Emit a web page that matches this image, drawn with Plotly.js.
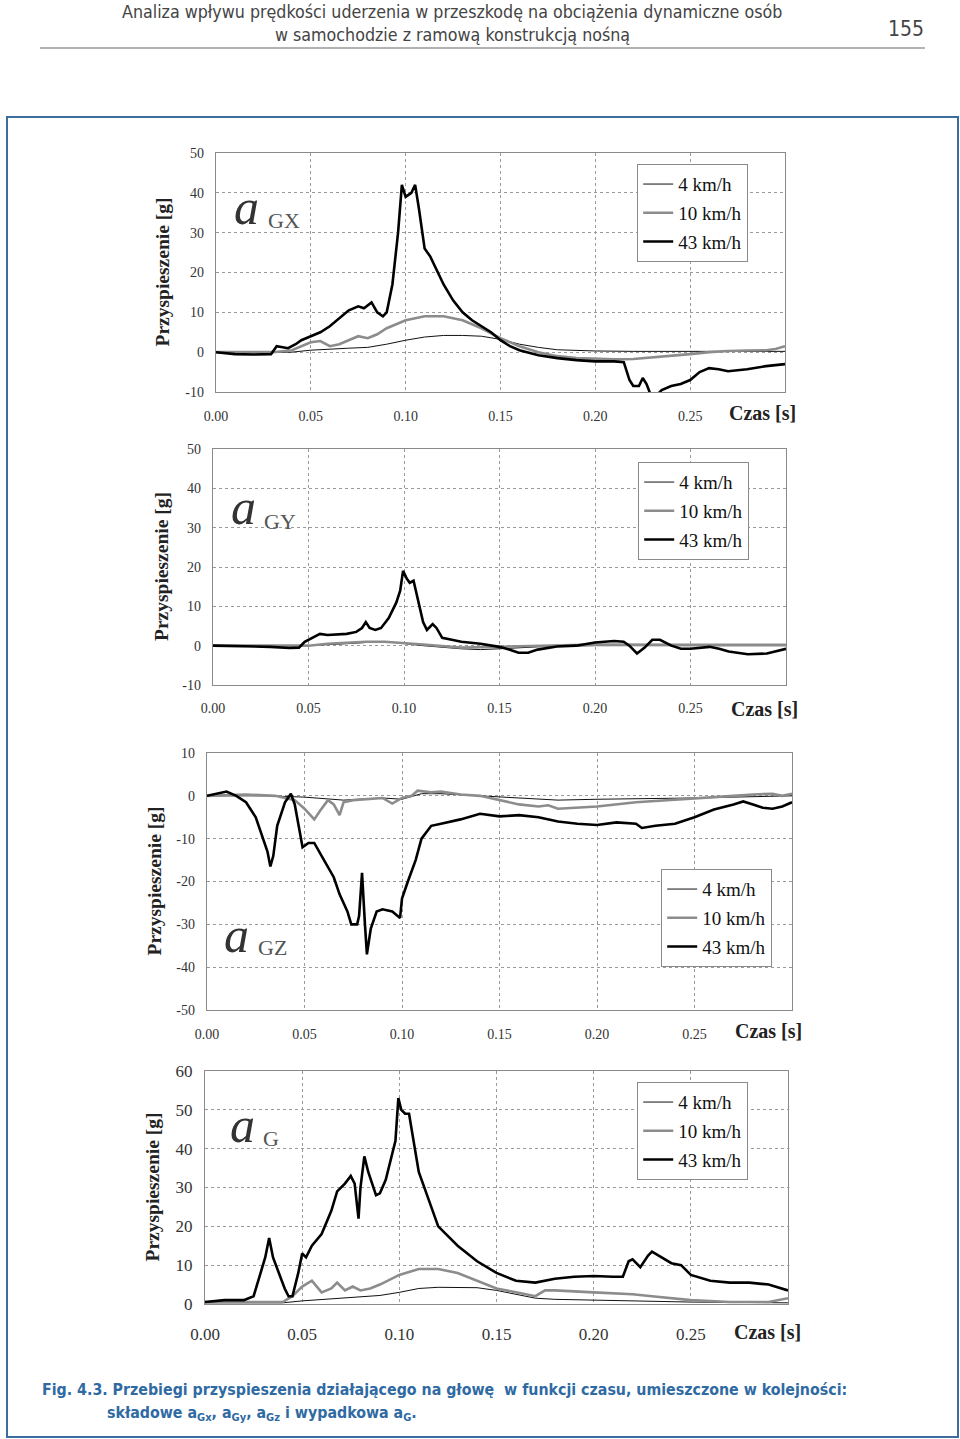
<!DOCTYPE html>
<html><head><meta charset="utf-8">
<script src="https://cdn.plot.ly/plotly-3.0.1.min.js"></script>
<style>html,body{margin:0;padding:0;background:#fff}#c{width:960px;height:1439px}</style>
</head><body><div id="c"></div>
<script>
// ---------- DATA ----------
const seriesNames = ['4 km/h', '10 km/h', '43 km/h'];
const xTickVals = [0, 0.05, 0.10, 0.15, 0.20, 0.25];
const xTickText = ['0.00', '0.05', '0.10', '0.15', '0.20', '0.25'];
const yTicksA = [-10, 0, 10, 20, 30, 40, 50];
const yTextA  = ['-10', '0', '10', '20', '30', '40', '50'];
const yTicksZ = [-50, -40, -30, -20, -10, 0, 10];
const yTextZ  = ['-50', '-40', '-30', '-20', '-10', '0', '10'];
const yTicksG = [0, 10, 20, 30, 40, 50, 60];
const yTextG  = ['0', '10', '20', '30', '40', '50', '60'];

// a_GX
const gx_t4  = [0,0.04,0.05,0.06,0.07,0.08,0.09,0.10,0.11,0.12,0.13,0.14,0.15,0.16,0.17,0.18,0.20,0.22,0.25,0.30];
const gx_v4  = [0,0,0.5,0.8,1,1.2,2,3,3.8,4.2,4.2,4,3.2,2,1.2,0.6,0.3,0.2,0.2,0.2];
const gx_t10 = [0,0.03,0.04,0.045,0.05,0.055,0.06,0.065,0.07,0.075,0.08,0.085,0.09,0.10,0.11,0.12,0.13,0.14,0.15,0.16,0.17,0.18,0.19,0.20,0.21,0.22,0.23,0.24,0.25,0.26,0.27,0.28,0.29,0.295,0.30];
const gx_v10 = [0,0,0.5,1.5,2.5,2.8,1.5,2,3,4,3.5,4.5,6,8,9,9,8,6,3.5,1.5,0,-1,-1.5,-1.7,-1.8,-1.7,-1.3,-1,-0.5,0,0.3,0.4,0.5,0.8,1.5];
const gx_t43 = [0,0.01,0.02,0.029,0.032,0.035,0.038,0.042,0.045,0.05,0.055,0.06,0.065,0.07,0.075,0.078,0.082,0.085,0.088,0.09,0.093,0.096,0.098,0.1,0.103,0.105,0.107,0.11,0.113,0.117,0.12,0.125,0.13,0.135,0.14,0.145,0.15,0.155,0.16,0.17,0.18,0.19,0.2,0.21,0.215,0.218,0.22,0.223,0.225,0.227,0.229,0.233,0.235,0.24,0.245,0.25,0.255,0.26,0.265,0.27,0.28,0.29,0.30];
const gx_v43 = [0,-0.5,-0.6,-0.5,1.5,1.2,1,2,3,4,5,6.5,8.5,10.5,11.5,11,12.5,10,9,10,17,30,42,39,40,42,36,26,24,20,17,13,10,8,6.5,5,3,1.5,0.5,-0.8,-1.5,-2,-2.3,-2.3,-2.5,-7,-8.5,-8.5,-6.5,-8,-10.5,-10.5,-9.5,-8.5,-8,-7,-5,-4,-4.3,-4.8,-4.3,-3.5,-3];

// a_GY
const gy_t4  = [0,0.05,0.07,0.08,0.095,0.11,0.13,0.14,0.15,0.17,0.20,0.25,0.30];
const gy_v4  = [0,0,0.5,0.8,0.8,0,-0.8,-1,-0.8,-0.3,0,0,0];
const gy_t10 = [0,0.05,0.06,0.08,0.09,0.10,0.11,0.13,0.15,0.20,0.25,0.30];
const gy_v10 = [0,0,0.5,1,1,0.7,0.3,-0.5,-0.3,0.3,0.2,0.2];
const gy_t43 = [0,0.02,0.03,0.04,0.045,0.048,0.052,0.056,0.06,0.065,0.07,0.075,0.078,0.08,0.082,0.085,0.088,0.092,0.096,0.098,0.0995,0.1015,0.103,0.105,0.107,0.11,0.112,0.115,0.117,0.12,0.125,0.13,0.14,0.15,0.155,0.16,0.165,0.17,0.18,0.19,0.2,0.21,0.215,0.218,0.222,0.226,0.23,0.234,0.24,0.245,0.25,0.255,0.26,0.265,0.27,0.28,0.29,0.30];
const gy_v43 = [0,-0.2,-0.3,-0.6,-0.5,1,2,3,2.7,2.8,3,3.5,4.5,6,4.5,4,4.5,7,11,14,19,17,16,16.5,12,6,4,5.5,4.5,2,1.5,1,0.5,-0.3,-1,-1.8,-1.8,-1,-0.2,0,0.8,1.2,1,0,-2,-0.5,1.5,1.5,0,-0.8,-0.8,-0.5,-0.3,-0.8,-1.5,-2.2,-2,-0.8];

// a_GZ
const gz_t4  = [0,0.03,0.05,0.07,0.09,0.10,0.11,0.12,0.14,0.16,0.18,0.20,0.25,0.30];
const gz_v4  = [0,0,-0.3,-1,-0.5,-0.8,0.5,0.5,0,-0.5,-1,-0.8,-0.5,0];
const gz_t10 = [0,0.02,0.035,0.04,0.045,0.05,0.055,0.058,0.062,0.065,0.068,0.07,0.075,0.09,0.095,0.10,0.105,0.108,0.115,0.12,0.13,0.14,0.15,0.16,0.17,0.175,0.18,0.20,0.22,0.25,0.27,0.28,0.29,0.295,0.30];
const gz_v10 = [0,0.3,0,-0.5,-1,-3,-5.5,-3.5,-1,-2,-4.5,-1.5,-1,-0.5,-1.8,-0.5,0,1.2,0.8,1,0.3,0,-1,-2,-2.5,-2.2,-3,-2.5,-1.5,-0.5,0,0.3,0.5,0,0.5];
const gz_t43 = [0,0.005,0.01,0.015,0.02,0.025,0.028,0.031,0.0325,0.034,0.036,0.04,0.043,0.045,0.047,0.049,0.052,0.055,0.06,0.065,0.068,0.072,0.074,0.077,0.078,0.0795,0.081,0.082,0.084,0.087,0.09,0.095,0.099,0.1,0.103,0.107,0.11,0.115,0.12,0.13,0.14,0.15,0.16,0.17,0.18,0.19,0.2,0.21,0.22,0.223,0.23,0.24,0.25,0.26,0.27,0.275,0.28,0.285,0.29,0.295,0.30];
const gz_v43 = [0,0.5,1,0,-1.5,-5,-9,-13,-16.5,-14,-7,-1.5,0.5,-2,-7,-12,-11,-11,-15,-19,-23,-27,-30,-30,-28,-18,-30,-37,-31,-27,-26.5,-27,-28.5,-24,-20,-15,-10,-7,-6.5,-5.5,-4.2,-4.8,-4.5,-5,-6,-6.5,-6.8,-6.2,-6.5,-7.5,-7,-6.5,-5,-3.2,-2,-1.3,-2,-2.8,-3,-2.5,-1.5];

// a_G
const g_t4  = [0,0.04,0.05,0.07,0.09,0.10,0.11,0.12,0.13,0.14,0.15,0.16,0.17,0.18,0.20,0.22,0.25,0.30];
const g_v4  = [0.3,0.3,0.8,1.5,2.2,3,4,4.3,4.3,4.2,3.5,2.5,1.5,1.2,1,0.8,0.5,0.3];
const g_t10 = [0,0.04,0.045,0.05,0.055,0.06,0.065,0.068,0.072,0.076,0.08,0.085,0.09,0.10,0.11,0.12,0.13,0.14,0.15,0.16,0.17,0.175,0.18,0.20,0.22,0.23,0.24,0.25,0.27,0.29,0.30];
const g_v10 = [0.5,0.5,2,4.5,6,3,4,5.5,3.5,4.5,3.5,4,5,7.5,9,9,8,6,4,3,2,3.5,3.5,3,2.5,2,1.5,1,0.5,0.5,1.5];
const g_t43 = [0,0.01,0.02,0.025,0.028,0.031,0.033,0.035,0.038,0.041,0.043,0.045,0.048,0.05,0.052,0.055,0.06,0.065,0.068,0.072,0.075,0.077,0.079,0.08,0.082,0.084,0.088,0.09,0.093,0.096,0.098,0.0995,0.101,0.103,0.105,0.108,0.11,0.115,0.12,0.13,0.14,0.15,0.16,0.17,0.18,0.19,0.2,0.21,0.215,0.218,0.22,0.224,0.228,0.23,0.235,0.24,0.245,0.25,0.26,0.27,0.28,0.29,0.30];
const g_v43 = [0.5,1,1,2,7,12,17,12,8,4,2,2,8,13,12,15,18,24,29,31,33,31,22,30,38,34,28,28.5,32,38,42,53,50,49,49,40,34,27,20,15,11,8,6,5.5,6.5,7,7.2,7,7,11,11.5,9.5,12.5,13.5,12,10.5,10,7.5,6,5.5,5.5,5,3.5];

// ---------- LAYOUT ----------
const W = 960, H = 1439;
const PX = p => p / W, PY = p => 1 - p / H;
const serif = 'Liberation Serif, Times New Roman, serif';
const cond = 'DejaVu Sans Condensed, Liberation Sans Narrow, Roboto, sans-serif';

const panels = [
  {t:[gx_t4,gx_t10,gx_t43], v:[gx_v4,gx_v10,gx_v43], yr:[-10,50], yt:yTicksA, ytt:yTextA, box:[216,785,153,392], tf:14, so:11,
   leg:[637,164], sub:'GX', a:[247,207], s:[284,220], yl:162, cz:[762,413]},
  {t:[gy_t4,gy_t10,gy_t43], v:[gy_v4,gy_v10,gy_v43], yr:[-10,50], yt:yTicksA, ytt:yTextA, box:[213,786,449,685], tf:14, so:10,
   leg:[638,462], sub:'GY', a:[243,507], s:[280,521], yl:161, cz:[764,709]},
  {t:[gz_t4,gz_t10,gz_t43], v:[gz_v4,gz_v10,gz_v43], yr:[-50,10], yt:yTicksZ, ytt:yTextZ, box:[207,792,753,1010], tf:14, so:11,
   leg:[661,869], sub:'GZ', a:[236,935], s:[272,948], yl:154, cz:[768,1031]},
  {t:[g_t4,g_t10,g_t43], v:[g_v4,g_v10,g_v43], yr:[0,60], yt:yTicksG, ytt:yTextG, box:[205,788,1071,1304], tf:17, so:14,
   leg:[637,1082], sub:'G', a:[242,1125], s:[271,1138], yl:152, cz:[767,1332]}
];
const colors = ['#111111', '#8c8c8c', '#000000'];
const widths = [1, 2.6, 2.6];

const data = [];
const layout = {
  width: W, height: H, margin: {l:0, r:0, t:0, b:0},
  paper_bgcolor: '#fff', plot_bgcolor: '#fff', showlegend: true,
  annotations: [], shapes: []
};

panels.forEach((p, i) => {
  const n = i === 0 ? '' : String(i + 1);
  const xa = 'xaxis' + n, ya = 'yaxis' + n, lg = 'legend' + n;
  layout[xa] = {
    domain: [PX(p.box[0]), PX(p.box[1])], anchor: 'y' + n, range: [0, 0.30],
    tickvals: xTickVals, ticktext: xTickText, ticks: '', ticklabelstandoff: p.so,
    tickfont: {family: serif, size: p.tf, color: '#333'},
    showgrid: true, gridcolor: '#9a9a9a', griddash: 'dot', gridwidth: 1,
    zeroline: false, showline: true, mirror: true, linecolor: '#8a8a8a', linewidth: 1.2, fixedrange: true
  };
  layout[ya] = {
    domain: [PY(p.box[3]), PY(p.box[2])], anchor: 'x' + n, range: p.yr,
    tickvals: p.yt, ticktext: p.ytt,
    ticks: '', ticklabelstandoff: 8, tickfont: {family: serif, size: p.tf, color: '#333'},
    showgrid: true, gridcolor: '#9a9a9a', griddash: 'dot', gridwidth: 1,
    zeroline: false, showline: true, mirror: true, linecolor: '#8a8a8a', linewidth: 1.2, fixedrange: true
  };
  layout[lg] = {
    x: PX(p.leg[0]), y: PY(p.leg[1]), xanchor: 'left', yanchor: 'top',
    bgcolor: '#fff', bordercolor: '#8a8a8a', borderwidth: 1.2,
    font: {family: serif, size: 19, color: '#111'},
    traceorder: 'grouped', tracegroupgap: 1
  };
  for (let k = 0; k < 3; k++) {
    data.push({
      x: p.t[k], y: p.v[k], type: 'scatter', mode: 'lines', name: seriesNames[k],
      line: {color: colors[k], width: widths[k]}, xaxis: 'x' + n, yaxis: 'y' + n,
      legend: lg, legendgroup: 'p' + i + 's' + k, hoverinfo: 'skip'
    });
  }
  layout.annotations.push(
    {xref:'paper', yref:'paper', x: PX(p.a[0]), y: PY(p.a[1]), text: '<i>a</i>', showarrow: false,
     font: {family: serif, size: 50, color: '#333'}, xanchor: 'center', yanchor: 'middle'},
    {xref:'paper', yref:'paper', x: PX(p.s[0]), y: PY(p.s[1]), text: p.sub, showarrow: false,
     font: {family: serif, size: 22, color: '#555'}, xanchor: 'center', yanchor: 'middle'},
    {xref:'paper', yref:'paper', x: PX(p.yl), y: PY((p.box[2] + p.box[3]) / 2), text: '<b>Przyspieszenie [g]</b>',
     showarrow: false, textangle: -90, font: {family: serif, size: 19.5, color: '#222'}, xanchor: 'center', yanchor: 'middle'},
    {xref:'paper', yref:'paper', x: PX(p.cz[0]), y: PY(p.cz[1]), text: '<b>Czas [s]</b>', showarrow: false,
     font: {family: serif, size: 20, color: '#222'}, xanchor: 'center', yanchor: 'middle'}
  );
});

// page header, rule, frame, caption
layout.annotations.push(
  {xref:'paper', yref:'paper', x: PX(452), y: PY(12), text: 'Analiza wpływu prędkości uderzenia w przeszkodę na obciążenia dynamiczne osób',
   showarrow: false, font: {family: cond, size: 17.7, color: '#444'}, xanchor: 'center', yanchor: 'middle'},
  {xref:'paper', yref:'paper', x: PX(452), y: PY(35), text: 'w samochodzie z ramową konstrukcją nośną',
   showarrow: false, font: {family: cond, size: 17.7, color: '#444'}, xanchor: 'center', yanchor: 'middle'},
  {xref:'paper', yref:'paper', x: PX(906), y: PY(29), text: '155',
   showarrow: false, font: {family: cond, size: 21, color: '#444'}, xanchor: 'center', yanchor: 'middle'},
  {xref:'paper', yref:'paper', x: PX(40), y: PY(1389), text: '<b>Fig. 4.3. Przebiegi przyspieszenia działającego na głowę  w funkcji czasu, umieszczone w kolejności:</b>',
   showarrow: false, font: {family: cond, size: 15.8, color: '#2f6aa3'}, xanchor: 'left', yanchor: 'middle'},
  {xref:'paper', yref:'paper', x: PX(105), y: PY(1413), text: '<b>składowe a<sub>Gx</sub>, a<sub>Gy</sub>, a<sub>Gz</sub> i wypadkowa a<sub>G</sub>.</b>',
   showarrow: false, font: {family: cond, size: 15.8, color: '#2f6aa3'}, xanchor: 'left', yanchor: 'middle'}
);
layout.shapes.push(
  {type:'line', xref:'paper', yref:'paper', x0: PX(40), x1: PX(925), y0: PY(48), y1: PY(48), line: {color:'#999', width: 1.5}},
  {type:'rect', xref:'paper', yref:'paper', x0: PX(7), x1: PX(958), y0: PY(117), y1: PY(1437), line: {color:'#3b6e9f', width: 2}}
);

Plotly.newPlot('c', data, layout, {staticPlot: true, displayModeBar: false});
</script></body></html>
